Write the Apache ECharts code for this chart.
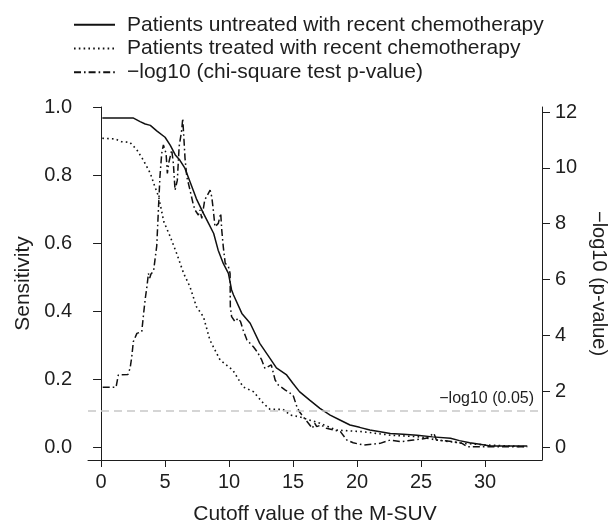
<!DOCTYPE html>
<html>
<head>
<meta charset="utf-8">
<script src="https://cdn.jsdelivr.net/npm/echarts@6.0.0/dist/echarts.min.js"></script>
<style>
  html, body { margin: 0; padding: 0; background: #fff; }
  #chart { width: 613px; height: 524px; }
</style>
</head>
<body>
<div id="chart"></div>
<script>
// cutoff (M-SUV) vs sensitivity, untreated group
const untreatedX = [0.1, 2.5, 3.05, 3.45, 3.85, 4.35, 5.0, 5.4, 5.8, 6.15, 6.55, 6.95, 7.45, 8.0, 8.4, 8.8, 9.15, 9.55, 9.95, 10.2, 10.35, 11.0, 11.65, 12.4, 13.2, 13.7, 14.5, 15.0, 15.5, 16.3, 17.1, 17.9, 18.7, 19.45, 20.2, 21.0, 21.8, 22.6, 23.6, 24.7, 25.9, 27.3, 28.0, 28.8, 29.6, 30.4, 33.3];
const untreatedY = [0.968, 0.968, 0.957, 0.950, 0.946, 0.930, 0.911, 0.888, 0.859, 0.844, 0.820, 0.780, 0.730, 0.687, 0.658, 0.628, 0.579, 0.540, 0.511, 0.462, 0.447, 0.393, 0.364, 0.305, 0.261, 0.233, 0.212, 0.187, 0.163, 0.138, 0.114, 0.094, 0.079, 0.065, 0.058, 0.050, 0.045, 0.040, 0.038, 0.035, 0.030, 0.026, 0.019, 0.013, 0.008, 0.003, 0.003];

// treated group
const treatedX = [0.1, 1.1, 1.6, 2.25, 2.8, 3.3, 3.85, 4.2, 4.5, 4.9, 5.4, 5.9, 6.45, 6.95, 7.45, 8.0, 8.5, 9.3, 10.3, 11.1, 11.9, 12.7, 13.2, 14.2, 14.8, 15.5, 17.1, 18.4, 20.5, 22.6, 24.9, 26.2, 28.3, 30.1, 33.3];
const treatedY = [0.908, 0.906, 0.898, 0.896, 0.874, 0.844, 0.805, 0.766, 0.736, 0.663, 0.619, 0.570, 0.511, 0.471, 0.413, 0.383, 0.315, 0.256, 0.226, 0.177, 0.163, 0.128, 0.111, 0.111, 0.094, 0.089, 0.070, 0.050, 0.045, 0.035, 0.030, 0.021, 0.011, 0.006, 0.001];

// -log10 of chi-square p-value (right axis)
const pvalX = [0.13, 1.17, 1.35, 2.1, 2.27, 2.4, 2.52, 2.8, 3.18, 3.3, 3.44, 3.6, 3.7, 3.8, 3.9, 4.1, 4.35, 4.48, 4.6, 4.74, 4.87, 5.08, 5.18, 5.3, 5.52, 5.65, 5.78, 5.96, 6.1, 6.3, 6.38, 6.48, 6.56, 6.7, 6.95, 7.2, 7.34, 7.6, 7.73, 7.87, 8.1, 8.52, 8.65, 8.77, 8.9, 9.16, 9.35, 9.43, 9.55, 9.7, 9.95, 10.08, 10.1, 10.2, 10.47, 10.7, 10.9, 11.1, 11.4, 11.9, 12.2, 12.55, 12.8, 13.3, 13.6, 13.85, 14.4, 15.0, 15.3, 15.5, 15.8, 16.2, 16.5, 16.7, 16.85, 17.2, 17.6, 18.15, 18.7, 19.2, 19.7, 20.5, 21.8, 22.6, 23.4, 24.4, 25.4, 26.0, 26.2, 27.5, 28.2, 28.6, 33.3];
const pvalY = [2.14, 2.14, 2.58, 2.60, 2.82, 3.23, 3.77, 4.07, 4.13, 4.67, 5.27, 5.8, 6.22, 6.05, 6.2, 6.3, 7.2, 8.49, 9.68, 10.52, 10.82, 10.52, 9.8, 10.2, 10.64, 10.16, 9.2, 9.56, 10.76, 11.35, 11.77, 11.0, 10.34, 9.68, 9.2, 8.7, 8.49, 8.31, 8.49, 8.19, 8.85, 9.2, 8.96, 8.49, 7.89, 8.01, 8.37, 7.77, 7.17, 6.58, 6.46, 6.22, 5.03, 4.67, 4.49, 4.61, 4.49, 4.19, 3.83, 3.59, 3.41, 3.12, 2.82, 2.94, 2.40, 2.22, 2.04, 1.86, 1.44, 1.26, 1.08, 0.85, 0.67, 0.85, 0.73, 0.79, 0.67, 0.61, 0.55, 0.25, 0.15, 0.07, 0.13, 0.25, 0.19, 0.25, 0.31, 0.49, 0.25, 0.19, 0.13, 0.01, 0.01];

const xTicks = [0, 5, 10, 15, 20, 25, 30];
const sensTicks = [0, 0.2, 0.4, 0.6, 0.8, 1.0];
const pTicks = [0, 2, 4, 6, 8, 10, 12];
const cutoffP = 1.301; // -log10(0.05)

const names = [
  'Patients untreated with recent chemotherapy',
  'Patients treated with recent chemotherapy',
  '\u2212log10 (chi-square test p-value)'
];

const zip = (xs, ys) => xs.map((x, i) => [x, ys[i]]);

const font = '"Liberation Sans", Arial, Helvetica, sans-serif';
const ink = '#1e1e1e';

const chart = echarts.init(document.getElementById('chart'));
chart.setOption({
  animation: false,
  textStyle: { fontFamily: font, color: ink },
  legend: {
    orient: 'vertical',
    left: 73,
    top: 13,
    padding: 0,
    itemGap: 0,
    itemWidth: 41,
    itemHeight: 2,
    // hide the marker dot, keep only the line sample
    itemStyle: { opacity: 0 },
    data: names,
    textStyle: { fontSize: 21, color: ink, lineHeight: 23.7, padding: [0, 0, 0, 7] }
  },
  grid: { left: 88, right: 71, top: 107, bottom: 64, containLabel: false, outerBoundsMode: 'none' },
  xAxis: {
    type: 'value',
    min: -1.02,
    max: 34.45,
    name: 'Cutoff value of the M-SUV',
    nameLocation: 'middle',
    nameGap: 44,
    nameTextStyle: { fontSize: 21, color: ink },
    axisLine: { onZero: false, lineStyle: { color: ink, width: 1 } },
    axisTick: { length: 7, lineStyle: { color: ink }, customValues: xTicks },
    axisLabel: { fontSize: 20, color: ink, margin: 12, customValues: xTicks },
    splitLine: { show: false }
  },
  yAxis: [
    {
      type: 'value',
      min: -0.038,
      max: 1.0,
      name: 'Sensitivity',
      nameLocation: 'middle',
      nameGap: 50,
      nameTextStyle: { fontSize: 21, color: ink },
      axisLine: { show: true, lineStyle: { color: ink, width: 1 } },
      axisTick: { show: true, length: 8, lineStyle: { color: ink }, customValues: sensTicks },
      axisLabel: { fontSize: 20, color: ink, margin: 16, customValues: sensTicks, formatter: v => v.toFixed(1) },
      splitLine: { show: false }
    },
    {
      type: 'value',
      position: 'right',
      min: -0.466,
      max: 12.18,
      name: '\u2212log10 (p-value)',
      nameLocation: 'middle',
      nameRotate: -90,
      nameGap: 45,
      nameTextStyle: { fontSize: 20, color: ink },
      axisLine: { show: true, lineStyle: { color: ink, width: 1 } },
      axisTick: { show: true, length: 8, lineStyle: { color: ink }, customValues: pTicks },
      axisLabel: { fontSize: 20, color: ink, margin: 13, customValues: pTicks },
      splitLine: { show: false }
    }
  ],
  series: [
    {
      name: names[0],
      type: 'line',
      yAxisIndex: 0,
      data: zip(untreatedX, untreatedY),
      symbol: 'none',
      color: '#111',
      lineStyle: { color: '#111', width: 1.5, type: 'solid' },
      z: 3
    },
    {
      name: names[1],
      type: 'line',
      yAxisIndex: 0,
      data: zip(treatedX, treatedY),
      symbol: 'none',
      color: '#111',
      lineStyle: { color: '#111', width: 1.6, type: [1.6, 3.2] },
      z: 3
    },
    {
      name: names[2],
      type: 'line',
      yAxisIndex: 1,
      data: zip(pvalX, pvalY),
      symbol: 'none',
      color: '#111',
      lineStyle: { color: '#111', width: 1.5, type: [7, 3, 1.6, 3] },
      z: 3,
      markLine: {
        silent: true,
        symbol: 'none',
        lineStyle: { color: '#c8c8c8', type: [8, 5], width: 1.5 },
        label: {
          position: 'insideEndTop',
          formatter: '\u2212log10 (0.05)',
          fontSize: 16,
          color: ink,
          distance: [8, 4]
        },
        data: [{ yAxis: cutoffP }]
      }
    }
  ]
});
</script>
</body>
</html>
